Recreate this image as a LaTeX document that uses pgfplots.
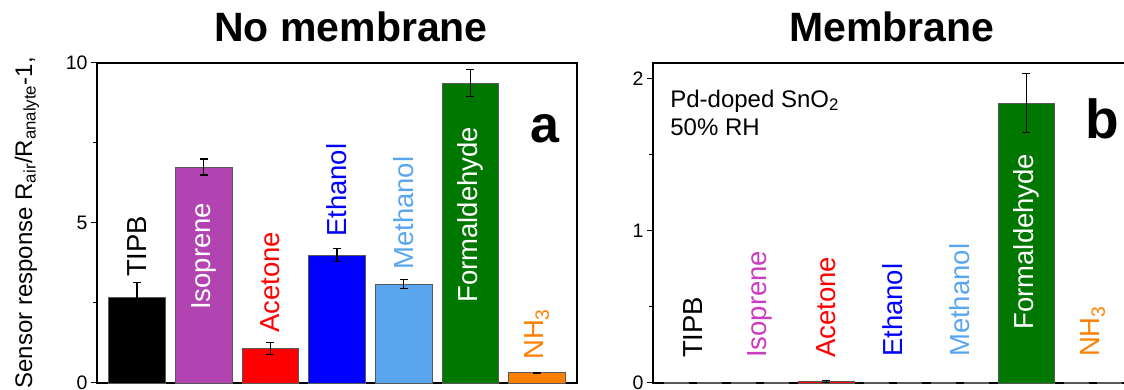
\documentclass[border=0pt]{standalone}
\usepackage{fontspec}
\setmainfont{Liberation Sans}
\usepackage{pgfplots}
\pgfplotsset{compat=1.18}
\definecolor{cTIPB}{RGB}{0,0,0}
\definecolor{cIso}{RGB}{178,68,178}
\definecolor{cIsoT}{RGB}{204,60,190}
\definecolor{cAce}{RGB}{255,0,0}
\definecolor{cEth}{RGB}{0,0,255}
\definecolor{cMeth}{RGB}{90,166,238}
\definecolor{cForm}{RGB}{0,120,0}
\definecolor{cNH}{RGB}{255,127,0}
\newcommand{\fs}[1]{\fontsize{#1}{#1}\selectfont}
\tikzset{blab/.style={rotate=90, anchor=west, inner sep=0pt, font=\fs{27.5bp}}}
\pgfplotsset{
  mybar/.style={ybar, bar width=0.85, bar shift=0pt, fill=#1, draw=black!65, line width=0.6bp,
    error bars/.cd, y dir=both, y explicit,
    error bar style={black, line width=1.1bp},
    error mark options={black, line width=1.1bp, mark size=4bp, rotate=90}},
  panel/.style={
    scale only axis, width=480bp, height=320bp, anchor=south west,
    xmin=-0.6, xmax=6.6, ymin=0,
    xtick=\empty, ytick pos=left, tick align=outside,
    major tick length=6bp, minor tick length=4bp,
    axis line style={line width=1.2bp}, tick style={black, line width=1bp},
    /pgf/number format/assume math mode=true,
    yticklabel style={font=\fs{19.5bp}},
    clip=false,
  },
}
\begin{document}
\begin{tikzpicture}
\path[use as bounding box] (0,0) rectangle (1124bp,390bp);
\clip (0,0) rectangle (1124bp,390bp);
% left panel
\begin{axis}[panel, at={(97bp,7bp)}, ymax=10, ytick={0,5,10}, minor ytick={2.5,7.5}]
\addplot[mybar=cTIPB] coordinates {(0,2.69) +- (0,0.45)};
\addplot[mybar=cIso] coordinates {(1,6.75) +- (0,0.25)};
\addplot[mybar=cAce] coordinates {(2,1.08) +- (0,0.18)};
\addplot[mybar=cEth] coordinates {(3,4.00) +- (0,0.20)};
\addplot[mybar=cMeth] coordinates {(4,3.09) +- (0,0.14)};
\addplot[mybar=cForm] coordinates {(5,9.38) +- (0,0.43)};
\addplot[mybar=cNH] coordinates {(6,0.32) +- (0,0.02)};
\node[blab, text=black] at (axis cs:0,3.31) {TIPB};
\node[blab, text=white] at (axis cs:1,2.28) {Isoprene};
\node[blab, text=cAce] at (axis cs:2,1.56) {Acetone};
\node[blab, text=cEth] at (axis cs:3,4.56) {Ethanol};
\node[blab, text=cMeth] at (axis cs:4,3.53) {Methanol};
\node[blab, text=white] at (axis cs:5,2.50) {Formaldehyde};
\node[blab, text=cNH] at (axis cs:6,0.72) {NH\textsubscript{3}};
\node[anchor=base west, inner sep=0pt, font=\fs{52bp}\bfseries] at (axis cs:5.9,7.5) {a};
\end{axis}
% right panel
\begin{axis}[panel, at={(653bp,7bp)}, ymax=2.1, ytick={0,1,2}, minor ytick={0.5,1.5}]
\addplot[mybar=cTIPB] coordinates {(0,0.002) +- (0,0.002)};
\addplot[mybar=cIso] coordinates {(1,0.002) +- (0,0.002)};
\addplot[mybar=cAce] coordinates {(2,0.012) +- (0,0.006)};
\addplot[mybar=cEth] coordinates {(3,0.003) +- (0,0.003)};
\addplot[mybar=cMeth] coordinates {(4,0.002) +- (0,0.002)};
\addplot[mybar=cForm] coordinates {(5,1.836) +- (0,0.195)};
\addplot[mybar=cNH] coordinates {(6,0.003) +- (0,0.003)};
\node[blab, text=black] at (axis cs:0,0.164) {TIPB};
\node[blab, text=cIsoT] at (axis cs:1,0.164) {Isoprene};
\node[blab, text=cAce] at (axis cs:2,0.164) {Acetone};
\node[blab, text=cEth] at (axis cs:3,0.17) {Ethanol};
\node[blab, text=cMeth] at (axis cs:4,0.17) {Methanol};
\node[blab, text=white] at (axis cs:5,0.35) {Formaldehyde};
\node[blab, text=cNH] at (axis cs:6,0.17) {NH\textsubscript{3}};
\node[anchor=base west, inner sep=0pt, font=\fs{24bp}] at (axis cs:-0.343,1.81) {Pd-doped SnO\textsubscript{2}};
\node[anchor=base west, inner sep=0pt, font=\fs{24bp}] at (axis cs:-0.343,1.626) {50\% RH};
\node[anchor=base west, inner sep=0pt, font=\fs{55bp}\bfseries] at (axis cs:5.88,1.607) {b};
\end{axis}
% titles
\node[anchor=base, inner sep=0pt, font=\fs{41bp}\bfseries] at (351bp,348bp) {No membrane};
\node[anchor=base, inner sep=0pt, font=\fs{41bp}\bfseries] at (892bp,348bp) {Membrane};
% y label
\node[rotate=90, anchor=base east, inner sep=0pt, font=\fs{24bp}] at (32bp,333bp) {Sensor response R\textsubscript{air}/R\textsubscript{analyte}-1,};
\end{tikzpicture}
\end{document}
